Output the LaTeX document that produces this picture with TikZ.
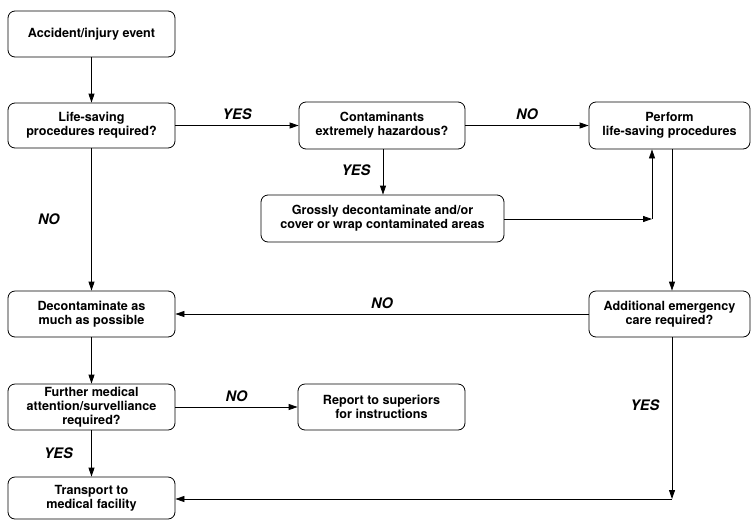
\documentclass[tikz,border=0pt]{standalone}
\usepackage{fontspec}
\setmainfont{TeX Gyre Heros}
\usetikzlibrary{arrows.meta}
\begin{document}
\begin{tikzpicture}[x=1pt,y=-1pt,
  box/.style={draw, line width=0.8pt, rounded corners=7pt, align=center,
    inner sep=0pt, font=\fontsize{12.6}{13.8}\selectfont\bfseries},
  lbl/.style={font=\fontsize{14.5}{16}\selectfont\bfseries\itshape},
  conn/.style={line width=0.8pt, -{Triangle[length=9pt,width=6pt]}},
  plain/.style={line width=0.8pt}]
\useasboundingbox (0,0) rectangle (752,520);
\node[box, minimum width=167pt, minimum height=46pt] (acc) at (91.5,34) {Accident/injury event};
\node[box, minimum width=167pt, minimum height=45pt] (life) at (91.5,125.5) {Life-saving\\procedures required?};
\node[box, minimum width=166pt, minimum height=47pt] (cont) at (382,125.5) {Contaminants\\extremely hazardous?};
\node[box, minimum width=161pt, minimum height=47pt] (perf) at (669.5,125.5) {Perform\\life-saving procedures};
\node[box, minimum width=243pt, minimum height=47pt] (gross) at (382.5,218.5) {Grossly decontaminate and/or\\cover or wrap contaminated areas};
\node[box, minimum width=161pt, minimum height=46pt] (addl) at (669.5,314) {Additional emergency\\care required?};
\node[box, minimum width=167pt, minimum height=46pt] (decon) at (91.5,314) {Decontaminate as\\much as possible};
\node[box, minimum width=167pt, minimum height=46pt] (further) at (91.5,407) {Further medical\\attention/survelliance\\required?};
\node[box, minimum width=167pt, minimum height=46pt] (report) at (381.5,407) {Report to superiors\\for instructions};
\node[box, minimum width=167pt, minimum height=42pt] (trans) at (91.5,498) {Transport to\\medical facility};

\coordinate (j1) at (652,219);
\coordinate (j2) at (672,499);

\draw[conn] (acc) -- (life);
\draw[conn] (life) -- (cont) node[lbl, midway, above=2pt] {YES};
\draw[conn] (cont) -- (perf) node[lbl, midway, above=2pt] {NO};
\draw[conn] (cont.south) ++(1,0) coordinate (cs) -- (cs |- gross.north) node[lbl, pos=0.45, left=9pt] {YES};
\draw[conn] (gross.east |- j1) -- (j1);
\draw[conn] (j1) -- (j1 |- perf.south);
\draw[conn] (perf.south -| addl.north) ++(2.5,0) coordinate (ps) -- (ps |- addl.north);
\draw[conn] (addl.west) -- (decon.east) node[lbl, midway, above=2pt] {NO};
\draw[conn] (life) -- (decon) node[lbl, midway, left=28pt] {NO};
\draw[conn] (decon) -- (further);
\draw[conn] (further) -- (report) node[lbl, midway, above=2pt] {NO};
\draw[conn] (further) -- (trans) node[lbl, midway, left=15pt] {YES};
\draw[conn] (ps |- addl.south) -- (j2) node[lbl, pos=0.42, left=9pt] {YES};
\draw[conn] (j2) -- (trans.east |- j2);
\end{tikzpicture}
\end{document}
